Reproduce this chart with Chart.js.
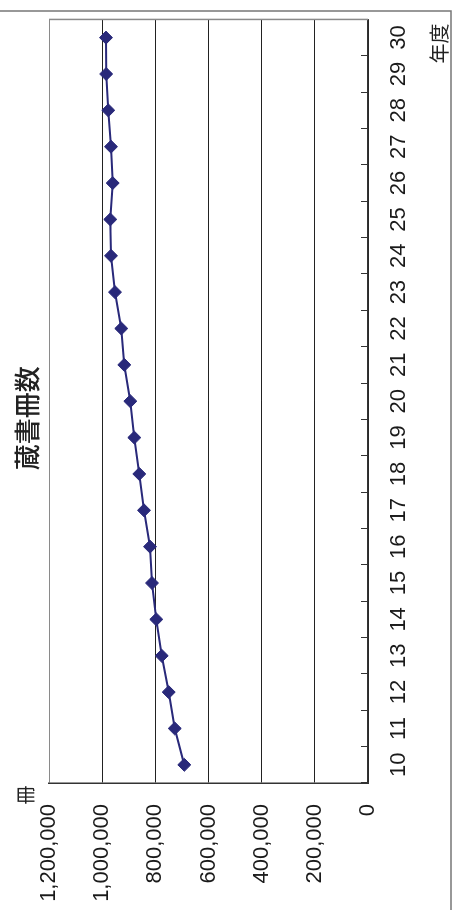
<!DOCTYPE html>
<html><head><meta charset="utf-8">
<script src="https://cdn.jsdelivr.net/npm/chart.js@4.4.1/dist/chart.umd.min.js"></script>
<style>
html,body{margin:0;padding:0;background:#fff;}
#wrap{position:relative;width:453px;height:910px;overflow:hidden;background:#fff;}
#rot{position:absolute;left:0;top:0;width:910px;height:453px;transform-origin:0 0;transform:translate(0,910px) rotate(-90deg);}
</style></head><body>
<div id="wrap"><div id="rot"><canvas id="c"></canvas></div></div>
<script>
const years = ['10','11','12','13','14','15','16','17','18','19','20','21','22','23','24','25','26','27','28','29','30'];
const bookCounts = [691000, 727000, 749700, 776000, 796300, 812500, 820000, 842600, 860300, 879000, 894000, 916700, 928000, 951700, 966800, 969400, 960400, 966800, 977000, 985000, 985600];
const valueTicks = [0, 200000, 400000, 600000, 800000, 1000000, 1200000];
const chartTitle = '蔵書冊数';
const valueUnit = '冊';
const categoryUnit = '年度';

const LATIN = "'Liberation Sans', Arial, sans-serif";
const CJK = "'Noto Sans CJK JP', sans-serif";
const NAVY = '#29297a';

const extras = {
  id: 'extras',
  beforeDatasetsDraw(chart) {
    const {ctx, chartArea: a} = chart;
    ctx.save();
    ctx.strokeStyle = '#8a8a8a'; ctx.lineWidth = 1.5;
    ctx.beginPath(); ctx.moveTo(a.right, a.top); ctx.lineTo(a.right, a.bottom); ctx.stroke();
    ctx.restore();
  },
  afterDraw(chart) {
    const {ctx, chartArea: a, width, height} = chart;
    ctx.save();
    ctx.strokeStyle = '#777'; ctx.lineWidth = 1.5;
    ctx.beginPath(); ctx.moveTo(width - 11, 0); ctx.lineTo(width - 11, height - 2); ctx.lineTo(0, height - 2); ctx.stroke();
    ctx.fillStyle = '#222';
    ctx.textAlign = 'center'; ctx.textBaseline = 'middle';
    ctx.font = '500 26px ' + CJK;
    ctx.fillText(chartTitle, (a.left + a.right) / 2 - 17, a.top - 22);
    ctx.font = '19px ' + CJK;
    ctx.fillText(valueUnit, a.left - 12, a.top - 23);
    ctx.font = '20px ' + CJK;
    ctx.textAlign = 'right';
    ctx.fillText(categoryUnit, a.right - 4, a.bottom + 71);
    ctx.restore();
  }
};

new Chart(document.getElementById('c'), {
  type: 'line',
  data: {
    labels: years,
    datasets: [{
      data: bookCounts,
      borderColor: NAVY, backgroundColor: NAVY, borderWidth: 2,
      pointStyle: 'rectRot', pointRadius: 6.5, pointBorderWidth: 1,
      pointBackgroundColor: NAVY, pointBorderColor: NAVY,
      tension: 0, fill: false
    }]
  },
  options: {
    responsive: true, maintainAspectRatio: false, animation: false, devicePixelRatio: 1,
    layout: {padding: {left: 7, right: 16, top: 49, bottom: 0}},
    plugins: {legend: {display: false}, title: {display: false}, tooltip: {enabled: false}},
    scales: {
      x: {
        type: 'category', offset: true,
        grid: {offset: true, drawOnChartArea: false, drawTicks: true, tickLength: -7, color: '#333', lineWidth: 1},
        border: {display: true, color: '#333', width: 1.5},
        ticks: {color: '#1a1a1a', font: {family: LATIN, size: 22}, padding: 25, maxRotation: 0, autoSkip: false},
        afterFit(s) { s.height = 85; }
      },
      y: {
        min: 0, max: 1200000,
        afterBuildTicks(s) { s.ticks = valueTicks.map(v => ({value: v})); },
        grid: {drawTicks: false, lineWidth: 1, color: c => (c.tick && c.tick.value === 1200000) ? '#8a8a8a' : '#222'},
        border: {display: true, color: '#333', width: 1.5},
        ticks: {padding: 21, color: '#1a1a1a', font: {family: LATIN, size: 22}, callback: v => Number(v).toLocaleString('en-US')},
        afterFit(s) { s.width = 120; }
      }
    }
  },
  plugins: [extras]
});
</script>
</body></html>
